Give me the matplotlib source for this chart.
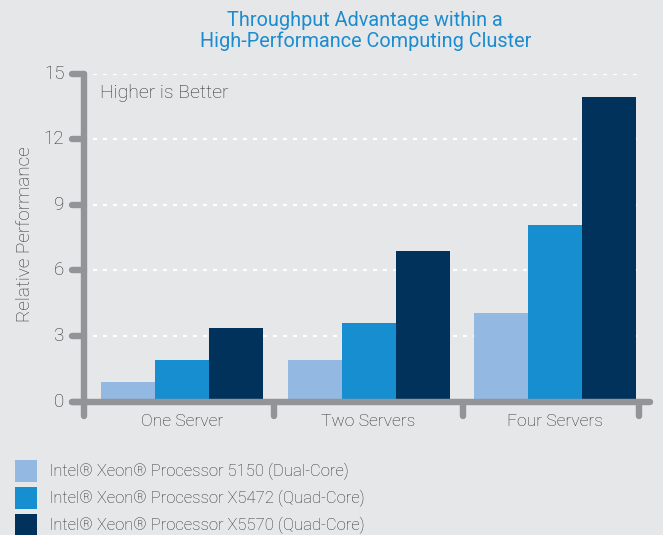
import numpy as np
import matplotlib
matplotlib.use("Agg")
import matplotlib.pyplot as plt

# data
categories = ["One Server", "Two Servers", "Four Servers"]
series_names = ["Intel® Xeon® Processor 5150 (Dual-Core)",
                "Intel® Xeon® Processor X5472 (Quad-Core)",
                "Intel® Xeon® Processor X5570 (Quad-Core)"]
xeon_5150 = [0.9, 1.9, 4.05]
xeon_x5472 = [1.9, 3.6, 8.1]
xeon_x5570 = [3.35, 6.9, 13.95]
y_ticks = [0, 3, 6, 9, 12, 15]

BG = "#e6e7e9"
AXIS_GRAY = "#929497"
TEXT_GRAY = "#2f3032"
COLORS = ["#93b9e2", "#178ecf", "#00325c"]

plt.rcParams['font.family'] = ['Roboto', 'DejaVu Sans']

fig = plt.figure(figsize=(6.63, 5.35), dpi=100, facecolor=BG)
ax = fig.add_axes([0.1267, 0.249, 0.8537, 0.6135])
ax.set_facecolor(BG)

x = np.arange(len(categories))
width = 0.289
values = [xeon_5150, xeon_x5472, xeon_x5570]
for i in range(3):
    ax.bar(x + (i - 1) * width, values[i], width, color=COLORS[i],
           label=series_names[i], zorder=3)

ax.set_xlim(-0.525, 2.507)
ax.set_ylim(0, 15)
for s in ax.spines.values():
    s.set_visible(False)
ax.set_xticks([])
ax.set_yticks([])

# dotted white grid lines
for t in y_ticks[1:]:
    ax.plot([-0.477, 2.453], [t, t], color="white", lw=1.6,
            linestyle=(0, (1.8, 2.7)), dash_capstyle="butt", zorder=1)

# axis frame with rounded caps
lw = 4.6
ax.plot([-0.525, -0.525], [-0.65, 15], color=AXIS_GRAY, lw=lw,
        solid_capstyle="round", clip_on=False, zorder=4)
ax.plot([-0.589, 2.507], [0, 0], color=AXIS_GRAY, lw=lw,
        solid_capstyle="round", clip_on=False, zorder=4)
for t in y_ticks:
    ax.plot([-0.589, -0.525], [t, t], color=AXIS_GRAY, lw=lw,
            solid_capstyle="round", clip_on=False, zorder=4)
    ax.text(-0.63, t, str(t), ha="right", va="center", fontsize=13.5,
            color=TEXT_GRAY, fontweight="light")
for sep in [0.493, 1.505, 2.45]:
    ax.plot([sep, sep], [0, -0.65], color=AXIS_GRAY, lw=lw,
            solid_capstyle="round", clip_on=False, zorder=4)

for i, c in enumerate(categories):
    ax.text(x[i], -0.9, c, ha="center", va="center", fontsize=12.6,
            color=TEXT_GRAY, fontweight="light")

ax.text(-0.44, 14.1, "Higher is Better", ha="left", va="center",
        fontsize=14, color=TEXT_GRAY, fontweight="light")

fig.text(0.038, 0.562, "Relative Performance", rotation=90, ha="center",
         va="center", fontsize=13.7, color=TEXT_GRAY, fontweight="light")

fig.text(0.551, 0.942, "Throughput Advantage within a\nHigh-Performance Computing Cluster",
         ha="center", va="center", fontsize=14.3, color="#1a8ccf",
         linespacing=1.05)

# legend squares are ~22 px with a 27 px row pitch
leg = fig.legend(loc="upper left", bbox_to_anchor=(0.0226, 0.1402),
                 frameon=False, fontsize=12, handlelength=1.32,
                 handleheight=1.654, labelspacing=0.3, handletextpad=0.72,
                 borderaxespad=0, borderpad=0)
for t in leg.get_texts():
    t.set_color(TEXT_GRAY)
    t.set_fontweight("light")

fig.savefig("out.png", dpi=100, facecolor=BG)
